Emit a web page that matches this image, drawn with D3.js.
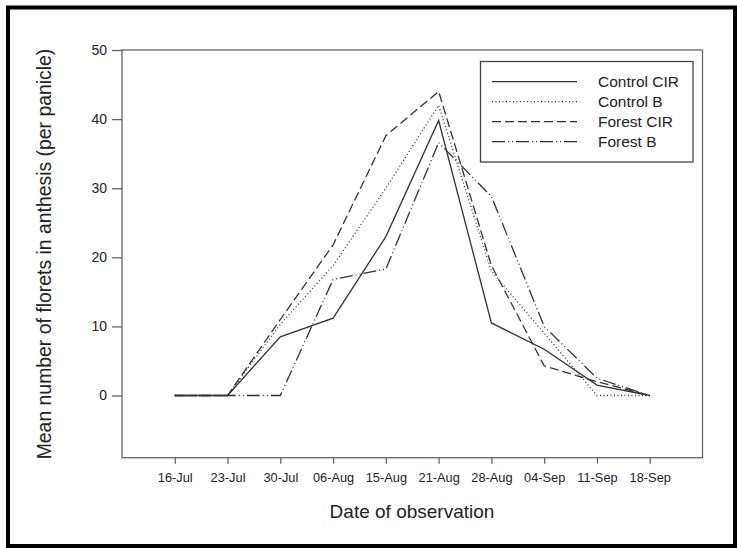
<!DOCTYPE html>
<html>
<head>
<meta charset="utf-8">
<script src="https://cdn.jsdelivr.net/npm/d3@7"></script>
<style>
  body { margin: 0; background: #fff; }
  text { font-family: Arial, "Liberation Sans", sans-serif; fill: #222; }
</style>
</head>
<body>
<svg id="chart" width="737" height="548"></svg>
<script>
var width = 737,
    height = 548

// dates of observation
var dates = ["16-Jul", "23-Jul", "30-Jul", "06-Aug", "15-Aug", "21-Aug", "28-Aug", "04-Sep", "11-Sep", "18-Sep"]
var yTicks = [0, 10, 20, 30, 40, 50]

// mean florets in anthesis per panicle
var controlCIR = [0, 0, 8.5, 11.2, 23.0, 39.8, 10.5, 6.7, 1.5, 0]
var controlB   = [0, 0, 10.3, 18.8, 30.0, 42.0, 18.0, 9.0, 0, 0]
var forestCIR  = [0, 0, 11.0, 21.8, 37.6, 44.0, 18.8, 4.3, 2.0, 0]
var forestB    = [0, 0, 0, 16.8, 18.3, 36.6, 28.8, 10.0, 2.5, 0]

var seriesNames = ["Control CIR", "Control B", "Forest CIR", "Forest B"]
var seriesData = [controlCIR, controlB, forestCIR, forestB]
var dashes = [null, "1,2.5", "9,4", "13,3,1,3,1,3"]

var svg = d3.select("#chart")

// outer border
svg.append("rect")
  .attr("x", 8).attr("y", 7.5)
  .attr("width", 727).attr("height", 538.5)
  .attr("fill", "none")
  .attr("stroke", "#000")
  .attr("stroke-width", 4)

var plotL = 122, plotR = 702.5, plotT = 50, plotB = 457.7

var x = d3.scaleLinear().domain([-1, 10]).range([plotL, plotR])
var y = d3.scaleLinear().domain([-9, 50]).range([plotB, plotT])

// frame
svg.append("rect")
  .attr("x", plotL).attr("y", plotT)
  .attr("width", plotR - plotL).attr("height", plotB - plotT)
  .attr("fill", "none")
  .attr("stroke", "#666")
  .attr("stroke-width", 1.3)

var yAxis = svg.append("g")
  .attr("transform", "translate(" + plotL + ",0)")
  .call(d3.axisLeft(y).tickValues(yTicks).tickSize(10).tickPadding(5).tickFormat(d3.format("d")))
yAxis.select(".domain").remove()
yAxis.selectAll("line").attr("stroke", "#666").attr("stroke-width", 1.3)
yAxis.selectAll("text").attr("font-size", 14).attr("font-family", "Arial, 'Liberation Sans', sans-serif").attr("fill", "#222")

var xAxis = svg.append("g")
  .attr("transform", "translate(0," + plotB + ")")
  .call(d3.axisBottom(x).tickValues(d3.range(dates.length)).tickSize(6).tickPadding(9)
    .tickFormat(function(i) { return dates[i] }))
xAxis.select(".domain").remove()
xAxis.selectAll("line").attr("stroke", "#666").attr("stroke-width", 1.3)
xAxis.selectAll("text").attr("font-size", 12.8).attr("font-family", "Arial, 'Liberation Sans', sans-serif").attr("fill", "#222")

var line = d3.line()
  .x(function(d, i) { return x(i) })
  .y(function(d) { return y(d) })

svg.append("g")
  .selectAll("path")
  .data(seriesData)
  .enter()
  .append("path")
    .attr("d", function(d) { return line(d) })
    .attr("fill", "none")
    .attr("stroke", "#333")
    .attr("stroke-width", 1.3)
    .attr("stroke-dasharray", function(d, i) { return dashes[i] })

// legend
var legend = svg.append("g")
legend.append("rect")
  .attr("x", 480.5).attr("y", 61.5)
  .attr("width", 212.5).attr("height", 100.5)
  .attr("fill", "#fff")
  .attr("stroke", "#444")
  .attr("stroke-width", 1.3)

var rows = legend.selectAll("g.row")
  .data(seriesNames)
  .enter()
  .append("g")
    .attr("transform", function(d, i) { return "translate(0," + (81.7 + i * 20) + ")" })

rows.append("line")
  .attr("x1", 492).attr("x2", 577)
  .attr("stroke", "#333")
  .attr("stroke-width", 1.3)
  .attr("stroke-dasharray", function(d, i) { return dashes[i] })

rows.append("text")
  .attr("x", 598)
  .attr("dy", "0.35em")
  .attr("font-size", 15.5)
  .text(function(d) { return d })

// axis titles
svg.append("text")
  .attr("transform", "translate(51,254) rotate(-90)")
  .attr("text-anchor", "middle")
  .attr("font-size", 19.4)
  .text("Mean number of florets in anthesis (per panicle)")

svg.append("text")
  .attr("x", 412).attr("y", 518)
  .attr("text-anchor", "middle")
  .attr("font-size", 19)
  .text("Date of observation")
</script>
</body>
</html>
